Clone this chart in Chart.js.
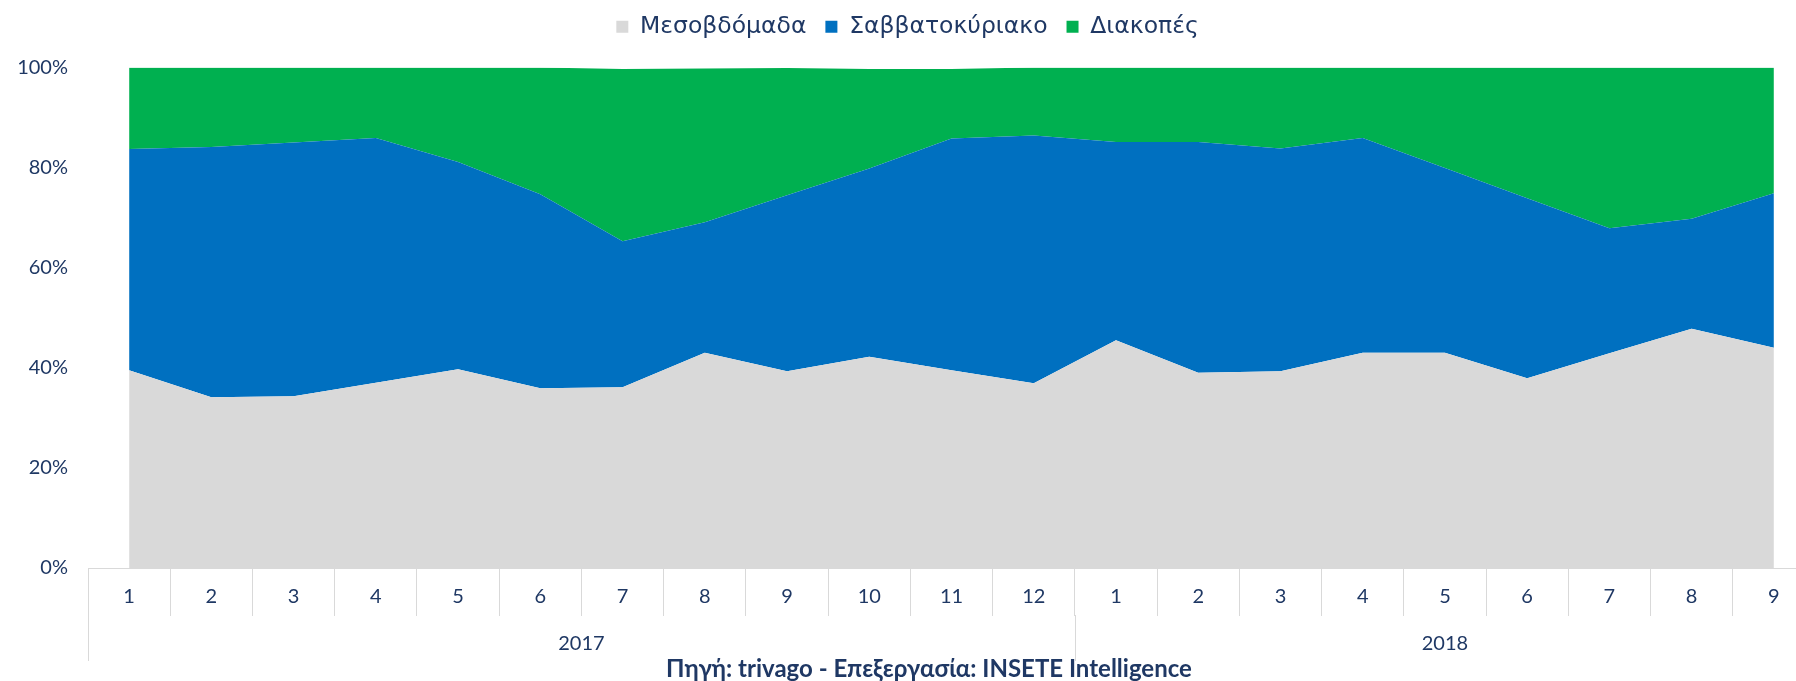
<!DOCTYPE html>
<html>
<head>
<meta charset="utf-8">
<script src="https://cdn.jsdelivr.net/npm/chart.js@4.4.0/dist/chart.umd.min.js"></script>
<style>
  html, body { margin: 0; padding: 0; background: #fff; overflow: hidden; }
  #wrap { width: 1815px; height: 681px; }
</style>
</head>
<body>
<div id="wrap"><canvas id="myChart" width="1815" height="681"></canvas></div>
<script>
// months on the x axis, grouped by year underneath
const months = ['1', '2', '3', '4', '5', '6', '7', '8', '9', '10', '11', '12',
                '1', '2', '3', '4', '5', '6', '7', '8', '9'];
const yearLabels = ['2017', '2018'];
const yearFirst = [0, 12];
const yearLast = [11, 20];

// shares in %
const weekday  = [39.5, 34.1, 34.3, 37.0, 39.7, 35.9, 36.1, 43.0, 39.3, 42.2, 39.5, 36.9,
                  45.5, 39.0, 39.3, 43.0, 43.0, 37.9, 42.9, 47.8, 44.0];
const weekend  = [44.2, 50.0, 50.7, 48.9, 41.4, 38.8, 29.2, 26.1, 35.2, 37.6, 46.3, 49.5,
                  39.6, 46.1, 44.5, 42.9, 36.9, 36.0, 25.0, 22.0, 30.9];
const holidays = [16.3, 15.9, 15.0, 14.1, 18.9, 25.3, 34.4, 30.7, 25.4, 19.9, 13.9, 13.6,
                  14.9, 14.9, 16.2, 14.1, 20.1, 26.1, 32.1, 30.2, 25.1];

const navy = '#1F3864';
const lineGray = '#D9D9D9';
const source = 'Πηγή: trivago - Επεξεργασία: INSETE Intelligence';

Chart.defaults.font.family = 'Lato, "Open Sans", sans-serif';
Chart.defaults.color = navy;

// extra room between legend and plot
const legendGap = {
  id: 'legendGap',
  beforeLayout(chart) {
    const lg = chart.legend;
    if (!lg || lg._gapDone) return;
    const fit = lg.fit;
    lg.fit = function () { fit.call(this); this.height += 19; };
    lg._gapDone = true;
  }
};

// second row of the category axis (years) + source note
const yearRow = {
  id: 'yearRow',
  afterDraw(chart) {
    const x = chart.scales.x;
    const ctx = chart.ctx;
    const half = (x.getPixelForValue(1) - x.getPixelForValue(0)) / 2;
    ctx.save();
    ctx.strokeStyle = lineGray;
    ctx.lineWidth = 1;
    ctx.fillStyle = navy;
    ctx.font = '20px Lato, "Open Sans", sans-serif';
    ctx.textAlign = 'center';
    ctx.textBaseline = 'middle';
    yearLabels.forEach((yr, k) => {
      const a = x.getPixelForValue(yearFirst[k]);
      const b = x.getPixelForValue(yearLast[k]);
      const edge = Math.round(a - half) + 0.5;
      ctx.beginPath();
      ctx.moveTo(edge, x.top + 47);
      ctx.lineTo(edge, x.top + 93);
      ctx.stroke();
      ctx.fillText(yr, (a + b) / 2, x.top + 76);
    });
    ctx.font = 'bold 24px Lato, "Open Sans", sans-serif';
    ctx.fillText(source, 929, 669);
    ctx.restore();
  }
};

const ctx = document.getElementById('myChart');

new Chart(ctx, {
  type: 'line',
  data: {
    labels: months,
    datasets: [{
        label: 'Μεσοβδόμαδα',
        data: weekday,
        backgroundColor: '#D9D9D9',
        borderColor: '#D9D9D9',
        borderWidth: 0,
        fill: 'origin'
      },
      {
        label: 'Σαββατοκύριακο',
        data: weekend,
        backgroundColor: '#0070C0',
        borderColor: '#0070C0',
        borderWidth: 0,
        fill: '-1'
      },
      {
        label: 'Διακοπές',
        data: holidays,
        backgroundColor: '#00B050',
        borderColor: '#00B050',
        borderWidth: 0,
        fill: '-1'
      }]
  },
  options: {
    responsive: false,
    animation: false,
    layout: { padding: { top: -4 } },
    elements: {
      point: { radius: 0, hoverRadius: 0 },
      line: { tension: 0 }
    },
    plugins: {
      tooltip: { enabled: false },
      legend: {
        position: 'top',
        labels: {
          boxWidth: 12,
          boxHeight: 12,
          padding: 19,
          color: navy,
          font: { family: '"DejaVu Sans", Verdana, sans-serif', size: 23.5 }
        }
      }
    },
    scales: {
      x: {
        offset: true,
        grid: {
          offset: true,
          drawOnChartArea: false,
          drawTicks: true,
          tickLength: 48,
          color: lineGray
        },
        border: { color: lineGray },
        ticks: {
          autoSkip: false,
          maxRotation: 0,
          padding: -31,
          color: navy,
          font: { size: 20 }
        },
        afterFit: s => { s.height = 113; }
      },
      y: {
        stacked: true,
        min: 0,
        max: 100,
        grid: { display: false, drawTicks: false },
        border: { display: false },
        ticks: {
          stepSize: 20,
          padding: 20,
          color: navy,
          font: { size: 20 },
          callback: v => v + '%'
        },
        afterFit: s => { s.width = 88; }
      }
    }
  },
  plugins: [legendGap, yearRow]
});
</script>
</body>
</html>
